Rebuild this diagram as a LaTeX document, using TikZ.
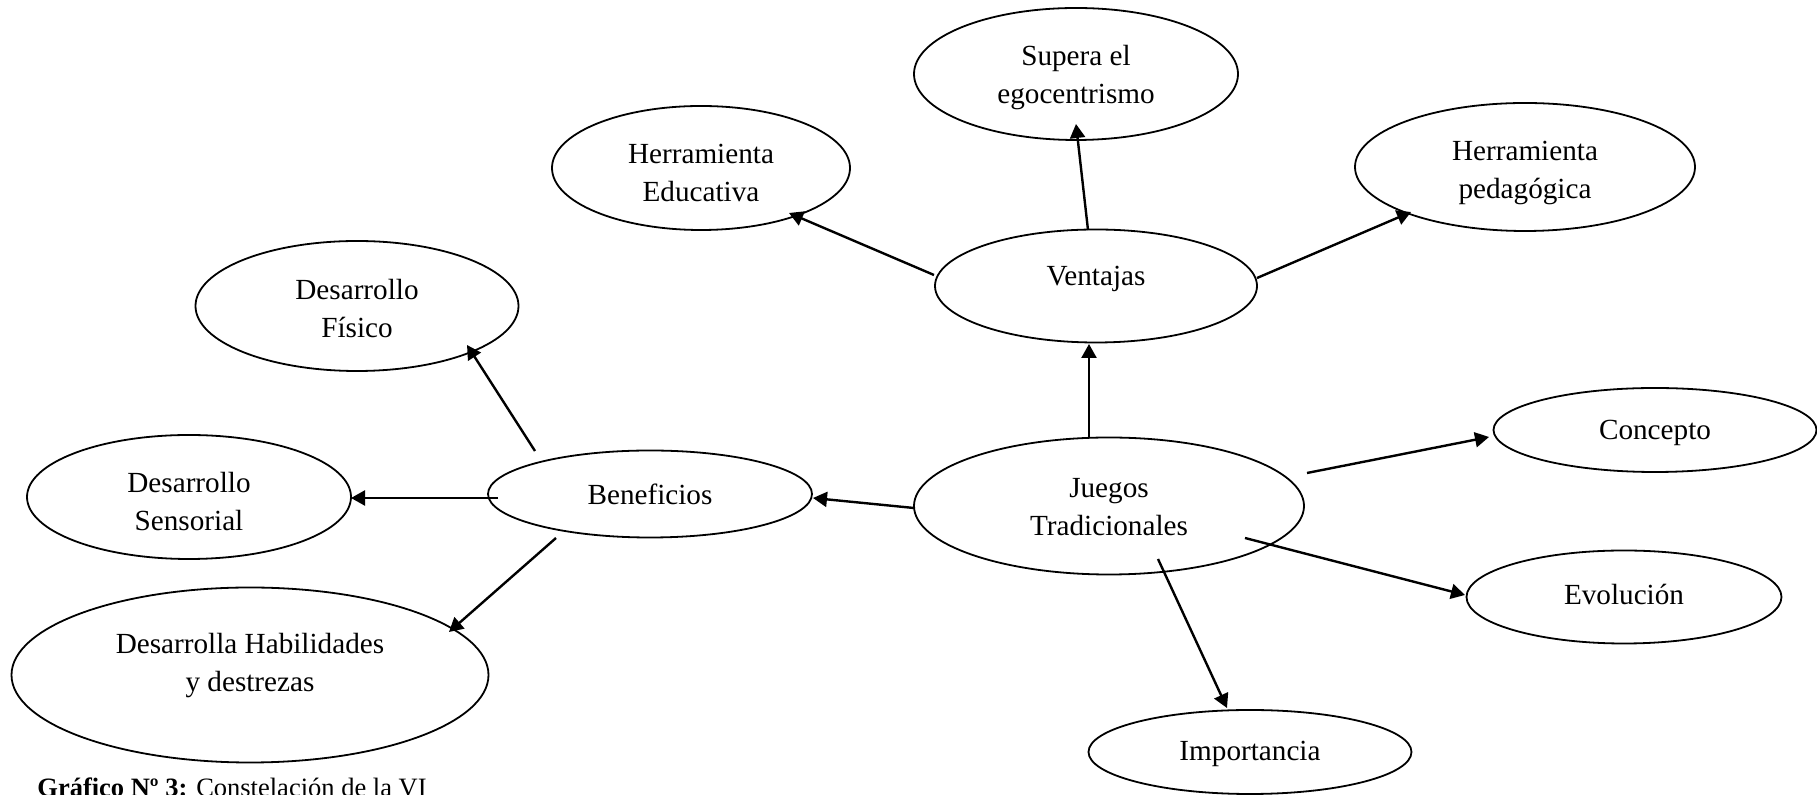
\documentclass[tikz,border=0pt]{standalone}
\usepackage{fontspec}
\setmainfont{Liberation Serif}
\usetikzlibrary{shapes.geometric,arrows.meta,calc}

\begin{document}
\begin{tikzpicture}[x=0.5pt,y=-0.5pt,
  bub/.style 2 args={draw, ellipse, line width=0.9pt, inner sep=0pt,
    outer sep=0pt, minimum width=#1, minimum height=#2},
  txt/.style={align=center, inner sep=0pt,
    font=\fontsize{14.6}{19}\selectfont},
  arr/.style={line width=1.2pt, -{Triangle[length=7pt,width=7.5pt]}}]

% page frame
\fill[white] (0,0) rectangle (1817,795);
\useasboundingbox (0,0) rectangle (1817,795);

% ellipses
\node[bub={162pt}{66pt}]   (supera)   at (1076,74)  {};
\node[bub={149pt}{62pt}]   (educ)     at (701,168)  {};
\node[bub={170pt}{64pt}]   (ped)      at (1525,167) {};
\node[bub={161pt}{56.5pt}] (ventajas) at (1096,286) {};
\node[bub={161.5pt}{65pt}] (fisico)   at (357,306)  {};
\node[bub={161.5pt}{42pt}] (concepto) at (1655,430) {};
\node[bub={195pt}{68.5pt}] (juegos)   at (1109,506) {};
\node[bub={162pt}{43.5pt}] (benef)    at (650,494)  {};
\node[bub={162pt}{62pt}]   (sens)     at (189,497)  {};
\node[bub={157.5pt}{46.5pt}] (evol)   at (1624,597) {};
\node[bub={238.5pt}{87.5pt}] (habil)  at (250,675)  {};
\node[bub={161.5pt}{42pt}] (imp)      at (1250,752) {};

% labels
\node[txt] (supera-t)   at ($(supera)+(0,4)$)    {Supera el\\egocentrismo};
\node[txt] (educ-t)     at ($(educ)+(0,5)$)      {Herramienta\\Educativa};
\node[txt] (ped-t)      at ($(ped)+(0,6)$)       {Herramienta\\pedagógica};
\node[txt] (ventajas-t) at ($(ventajas)+(0,-7)$) {Ventajas};
\node[txt] (fisico-t)   at ($(fisico)+(0,3)$)    {Desarrollo\\Físico};
\node[txt] (concepto-t) at ($(concepto)+(0,3)$)  {Concepto};
\node[txt] (juegos-t)   at ($(juegos)+(0,1)$)    {Juegos\\Tradicionales};
\node[txt] (benef-t)    at ($(benef)+(0,0)$)     {Beneficios};
\node[txt] (sens-t)     at ($(sens)+(0,5)$)      {Desarrollo\\Sensorial};
\node[txt] (evol-t)     at ($(evol)+(0,-3)$)     {Evolución};
\node[txt] (habil-t)    at ($(habil)+(0,-9)$)    {Desarrolla Habilidades\\y destrezas};
\node[txt] (imp-t)      at ($(imp)+(0,2)$)       {Importancia};

% connectors
\draw[arr] ($(juegos)+(-20,-68)$)   -- ($(ventajas)+(-7,58)$);
\draw[arr] ($(ventajas)+(-8,-56)$)  -- ($(supera)+(0,50)$);
\draw[arr] ($(ventajas)+(-162,-11)$) -- ($(educ)+(88,45)$);
\draw[arr] ($(ventajas)+(161,-8)$)  -- ($(ped)+(-114,45)$);
\draw[arr] ($(juegos)+(-195,2)$)    -- ($(benef)+(163,4)$);
\draw[arr] ($(benef)+(-115,-43)$)   -- ($(fisico)+(110,39)$);
\draw[arr] ($(benef)+(-152,4)$)     -- ($(sens)+(162,1)$);
\draw[arr] ($(benef)+(-94,44)$)     -- ($(habil)+(199,-43)$);
\draw[arr] ($(juegos)+(198,-33)$)   -- ($(concepto)+(-166,7)$);
\draw[arr] ($(juegos)+(136,32)$)    -- ($(evol)+(-159,-2)$);
\draw[arr] ($(juegos)+(49,53)$)     -- ($(imp)+(-23,-44)$);

% caption, running off the lower edge of the page
\node[anchor=base west, inner sep=0pt, font=\fontsize{13.25}{16}\selectfont]
  (caption) at (37,797) {\textbf{Gráfico Nº 3:} Constelación de la VI};
\end{tikzpicture}
\end{document}
